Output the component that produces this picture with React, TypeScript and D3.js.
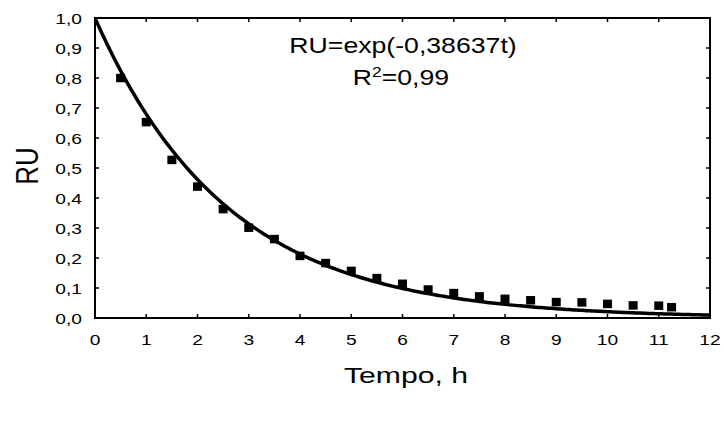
import React from "react";
import * as d3 from "d3";

const tHours = [0.5, 1, 1.5, 2, 2.5, 3, 3.5, 4, 4.5, 5, 5.5, 6, 6.5, 7, 7.5, 8, 8.5, 9, 9.5, 10, 10.5, 11, 11.25];
const ruValues = [0.8, 0.653, 0.527, 0.438, 0.363, 0.301, 0.263, 0.207, 0.183, 0.157, 0.133, 0.114, 0.095, 0.083, 0.072, 0.064, 0.059, 0.053, 0.052, 0.047, 0.042, 0.041, 0.036];
const fitK = 0.38637;
const xTickValues = [0, 1, 2, 3, 4, 5, 6, 7, 8, 9, 10, 11, 12];
const yTickValues = [0, 0.1, 0.2, 0.3, 0.4, 0.5, 0.6, 0.7, 0.8, 0.9, 1.0];
const equationText = "RU=exp(-0,38637t)";
const r2Text = "0,99";
const xLabel = "Tempo, h";
const yLabel = "RU";

const W = 724;
const H = 421;
const left = 95, right = 710, top = 18, bottom = 318;
const FONT = "Liberation Sans, Arial, sans-serif";

const fmt = (v: number) => d3.format(".1f")(v).replace(".", ",");

function SText({ x, y, size, sx = 1.25, anchor = "middle", children }: any) {
  return (
    <text
      transform={`translate(${x},${y}) scale(${sx},1)`}
      fontSize={size}
      fontFamily={FONT}
      textAnchor={anchor}
      fill="#000"
    >
      {children}
    </text>
  );
}

export default function App() {
  const x = d3.scaleLinear().domain([0, 12]).range([left, right]);
  const y = d3.scaleLinear().domain([0, 1]).range([bottom, top]);
  const curveT = d3.range(0, 12.0001, 0.05);
  const line = d3
    .line<number>()
    .x((t) => x(t))
    .y((t) => y(Math.exp(-fitK * t)));
  const tick = 4;
  const mw = 9;
  const mh = 8.5;
  return (
    <svg width={W} height={H} style={{ position: "absolute", left: 0, top: 0, background: "#fff" }}>
      <rect x={0} y={0} width={W} height={H} fill="#fff" />
      <defs>
        <clipPath id="plot">
          <rect x={left} y={top} width={right - left} height={bottom - top} />
        </clipPath>
      </defs>
      {xTickValues.map((v) => (
        <g key={"xt" + v}>
          <line x1={x(v)} x2={x(v)} y1={bottom} y2={bottom - tick} stroke="#000" strokeWidth={1.5} />
          <line x1={x(v)} x2={x(v)} y1={top} y2={top + tick} stroke="#000" strokeWidth={1.5} />
          <SText x={x(v)} y={345} size={15} sx={1.28}>{String(v)}</SText>
        </g>
      ))}
      {yTickValues.map((v) => (
        <g key={"yt" + v}>
          <line x1={left} x2={left + tick} y1={y(v)} y2={y(v)} stroke="#000" strokeWidth={1.5} />
          <line x1={right} x2={right - tick} y1={y(v)} y2={y(v)} stroke="#000" strokeWidth={1.5} />
          <SText x={82} y={y(v) + 5.5} size={15} sx={1.28} anchor="end">{fmt(v)}</SText>
        </g>
      ))}
      <path d={line(curveT) || ""} fill="none" stroke="#000" strokeWidth={3.5} clipPath="url(#plot)" />
      {tHours.map((t, i) => (
        <rect key={"p" + i} x={x(t) - mw / 2} y={y(ruValues[i]) - mh / 2} width={mw} height={mh} fill="#000" />
      ))}
      <rect x={left} y={top} width={right - left} height={bottom - top} fill="none" stroke="#000" strokeWidth={2} />
      <SText x={403} y={53} size={21.5} sx={1.24}>{equationText}</SText>
      <text transform={`translate(401,85) scale(1.24,1)`} fontSize={21.5} fontFamily={FONT} textAnchor="middle" fill="#000">
        R<tspan fontSize={14} dy={-8.5}>2</tspan><tspan dy={8.5}>={r2Text}</tspan>
      </text>
      <SText x={406} y={383} size={22} sx={1.37}>{xLabel}</SText>
      <text transform={`translate(38,166) rotate(-90) scale(1,1.2)`} fontSize={26} fontFamily={FONT} textAnchor="middle" fill="#000">
        {yLabel}
      </text>
    </svg>
  );
}
